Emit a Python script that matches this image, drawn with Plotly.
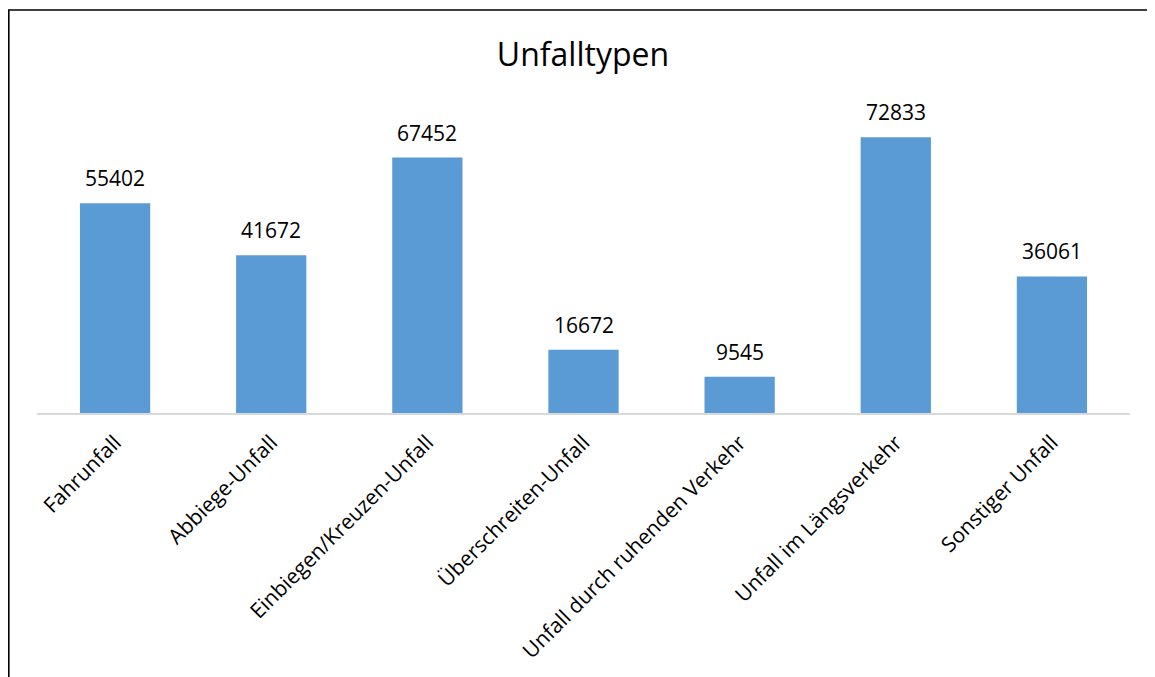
import plotly.graph_objects as go

categories = ["Fahrunfall", "Abbiege-Unfall", "Einbiegen/Kreuzen-Unfall", "Überschreiten-Unfall",
              "Unfall durch ruhenden Verkehr", "Unfall im Längsverkehr", "Sonstiger Unfall"]
values = [55402, 41672, 67452, 16672, 9545, 72833, 36061]

font_family = "Open Sans"

W, H = 1147, 669
L, T = 29, 102
PW, PH = 1093, 303

fig = go.Figure()
fig.add_trace(go.Bar(x=categories, y=values, marker=dict(color="#5B9BD5", line=dict(width=0)),
                     hoverinfo="x+y"))

annotations = [dict(x=c, y=v, xref="x", yref="y", text=str(v), showarrow=False,
                    yanchor="bottom", yshift=9, font=dict(family=font_family, size=21, color="#000000"))
               for c, v in zip(categories, values)]

fig.update_layout(
    width=W, height=H,
    margin=dict(l=L, r=W - L - PW, t=T, b=H - T - PH, pad=0),
    paper_bgcolor="white", plot_bgcolor="white",
    bargap=0.55,
    showlegend=False,
    title=dict(text="Unfalltypen", x=(575) / W, xanchor="center", y=1 - 47 / H, yanchor="middle",
               font=dict(family=font_family, size=32, color="#000000")),
    xaxis=dict(showline=True, linecolor="#D9D9D9", linewidth=2, tickangle=-45, ticks="",
               ticklabelstandoff=7,
               tickfont=dict(family=font_family, size=21, color="#000000"), showgrid=False),
    yaxis=dict(range=[0, 80000], visible=False, showgrid=False, zeroline=False),
    annotations=annotations,
    shapes=[dict(type="rect", xref="paper", yref="paper", x0=(0.8 - L) / PW, x1=1.2,
                 y0=-1.5, y1=1 + (T - 2) / PH, line=dict(color="#000000", width=1.6), layer="above")],
)

fig.write_html("out.html")
